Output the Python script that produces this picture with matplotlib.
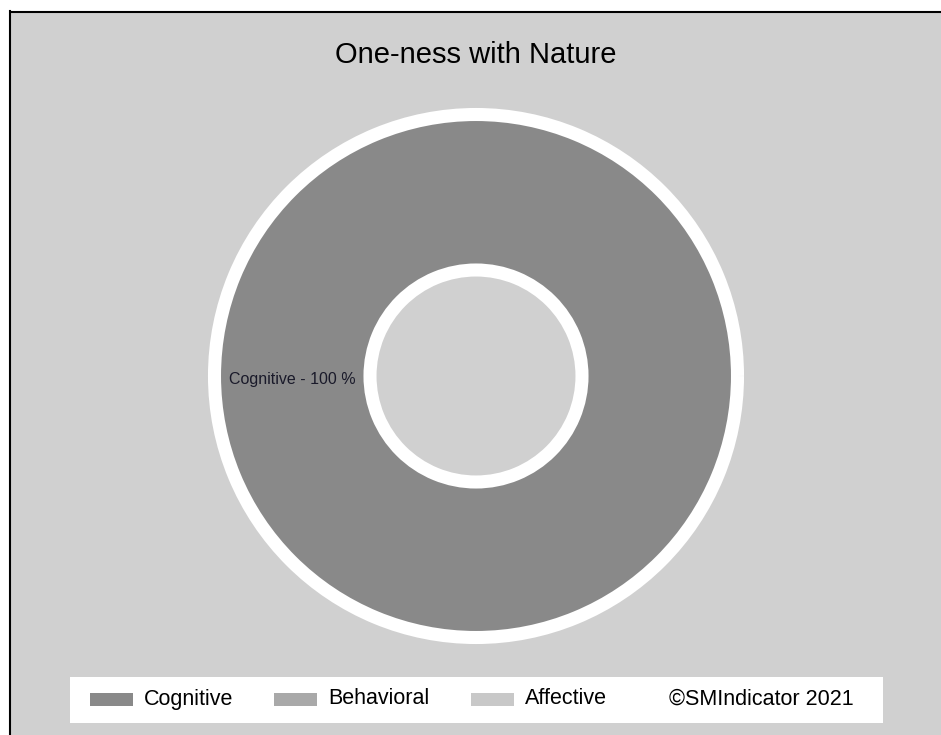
import matplotlib.pyplot as plt
from matplotlib.patches import Rectangle

# data
categories = ['Cognitive', 'Behavioral', 'Affective']
values = [100, 0, 0]
colors = ['#898989', '#a9a9a9', '#c8c8c8']
title = 'One-ness with Nature'
credit = '\u00a9SMIndicator 2021'

plt.rcParams['font.family'] = ['Liberation Sans', 'DejaVu Sans']

W, H = 941, 735
fig = plt.figure(figsize=(W / 100, H / 100), dpi=100, facecolor='white')
ax = fig.add_axes([0, 0, 1, 1])
ax.set_xlim(0, W)
ax.set_ylim(H, 0)
ax.set_aspect('equal')
ax.axis('off')

# panel background with black top/left border
ax.add_patch(Rectangle((11, 11), W, H, facecolor='#d0d0d0', edgecolor='none', zorder=0))
ax.plot([11, W], [11.5, 11.5], color='black', lw=1.5, zorder=1)
ax.plot([10.5, 10.5], [11, H], color='black', lw=1.5, zorder=1)

ax.text(476, 55, title, ha='center', va='center', fontsize=21, color='black')

# donut, only non-zero slices
shown = [(c, v, col) for c, v, col in zip(categories, values, colors) if v > 0]
wedges, _ = ax.pie([v for _, v, _ in shown], colors=[col for _, _, col in shown],
                   center=(476, 376), radius=261.5, startangle=90, counterclock=False,
                   wedgeprops=dict(width=155.5, edgecolor='white', linewidth=9.4),
                   frame=True)
ax.set_xlim(0, W)
ax.set_ylim(H, 0)
ax.axis('off')

for c, v, _ in shown:
    ax.text(292, 379, f'{c} - {v} %', ha='center', va='center', fontsize=11.5, color='#1a1a2a')

# legend box
ax.add_patch(Rectangle((70, 677), 813, 46, facecolor='white', edgecolor='none', zorder=2))
lx = [90, 274, 471]
for x, c, col in zip(lx, categories, colors):
    ax.add_patch(Rectangle((x, 693), 43, 13, facecolor=col, edgecolor='none', zorder=3))
    ax.text(x + 54, 699, c, ha='left', va='center', fontsize=15.5, color='black', zorder=3)
ax.text(669, 699, credit, ha='left', va='center', fontsize=15.5, color='black', zorder=3)

fig.savefig('out.png', dpi=100, facecolor='white')
